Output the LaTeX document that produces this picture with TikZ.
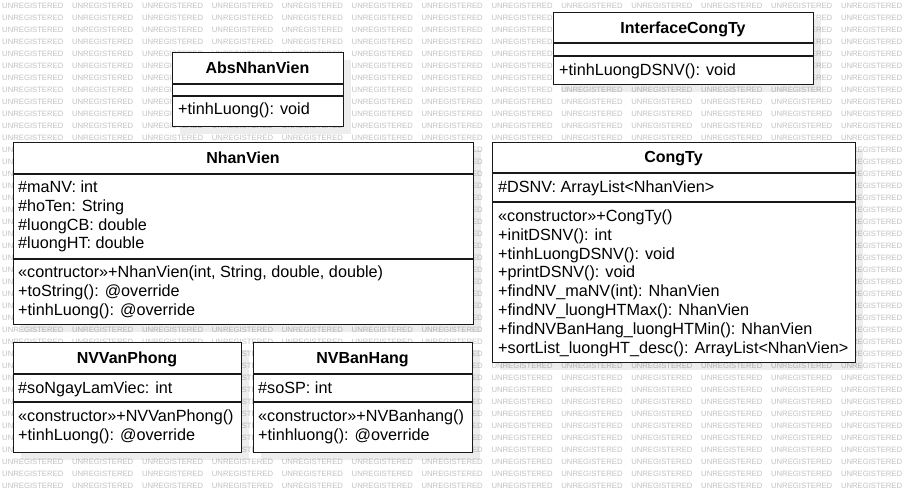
\documentclass[tikz,border=0pt]{standalone}
\usepackage{fontspec}
\setmainfont{Liberation Sans}
\usetikzlibrary{shadows}
\tikzset{
  classbox/.style={draw=black!90, line width=1.2pt, fill=white, inner sep=0pt, anchor=north west,
    drop shadow={shadow xshift=7pt, shadow yshift=-7pt, fill=black, opacity=0.07}},
  ctitle/.style={font=\fontsize{16}{19}\selectfont\bfseries, inner sep=0pt, anchor=base},
  member/.style={font=\fontsize{16.2}{19}\selectfont, inner sep=0pt, anchor=base west},
  sepline/.style={draw=black!90, line width=1.2pt},
  wm/.style={font=\fontsize{7.7}{8}\selectfont, text=black!24, inner sep=0pt, anchor=west},
}
\begin{document}
\begin{tikzpicture}[x=1pt,y=-1pt]
\useasboundingbox (0,0) rectangle (905,502);
\fill[white] (0,0) rectangle (905,502);
% watermark
\foreach \r in {0,...,40}{\foreach \c in {0,...,12}{
  \node[wm] (wm-\r-\c) at ({2+\c*69.9},{6+\r*12}) {UNREGISTERED};}}

% InterfaceCongTy
\node[classbox, minimum width=260pt, minimum height=72pt] (ict) at (553,12) {};
\node[ctitle] (ict-t) at (683,33.5) {InterfaceCongTy};
\draw[sepline] (553,43) -- (813,43);
\draw[sepline] (553,56) -- (813,56);
\node[member] (ict-m1) at (559,75.5) {+tinhLuongDSNV(): void};

% AbsNhanVien
\node[classbox, minimum width=171pt, minimum height=74pt] (abs) at (172,52) {};
\node[ctitle] (abs-t) at (257.5,73.5) {AbsNhanVien};
\draw[sepline] (172,84) -- (343,84);
\draw[sepline] (172,96) -- (343,96);
\node[member] (abs-m1) at (178,115) {+tinhLuong(): void};

% NhanVien
\node[classbox, minimum width=460pt, minimum height=182pt] (nv) at (13,142) {};
\node[ctitle] (nv-t) at (243,163.5) {NhanVien};
\draw[sepline] (13,174) -- (473,174);
\draw[sepline] (13,259) -- (473,259);
\node[member] (nv-a1) at (18,192.8) {\#maNV: int};
\node[member] (nv-a2) at (18,211.5) {\#hoTen: String};
\node[member] (nv-a3) at (18,230.2) {\#luongCB: double};
\node[member] (nv-a4) at (18,248.9) {\#luongHT: double};
\node[member] (nv-m1) at (18,277.8) {«contructor»+NhanVien(int, String, double, double)};
\node[member] (nv-m2) at (18,296.5) {+toString(): @override};
\node[member] (nv-m3) at (18,315.2) {+tinhLuong(): @override};

% CongTy
\node[classbox, minimum width=363pt, minimum height=220pt] (ct) at (492,142) {};
\node[ctitle] (ct-t) at (673.5,163) {CongTy};
\draw[sepline] (492,173) -- (855,173);
\draw[sepline] (492,202) -- (855,202);
\node[member] (ct-a1) at (498,192.5) {\#DSNV: ArrayList<NhanVien>};
\node[member] (ct-m1) at (498,221.5) {«constructor»+CongTy()};
\node[member] (ct-m2) at (498,240.3) {+initDSNV(): int};
\node[member] (ct-m3) at (498,259.1) {+tinhLuongDSNV(): void};
\node[member] (ct-m4) at (498,277.9) {+printDSNV(): void};
\node[member] (ct-m5) at (498,296.7) {+findNV\_maNV(int): NhanVien};
\node[member] (ct-m6) at (498,315.5) {+findNV\_luongHTMax(): NhanVien};
\node[member] (ct-m7) at (498,334.3) {+findNVBanHang\_luongHTMin(): NhanVien};
\node[member] (ct-m8) at (498,353.1) {+sortList\_luongHT\_desc(): ArrayList<NhanVien>};

% NVVanPhong
\node[classbox, minimum width=228pt, minimum height=110pt] (vp) at (13,342) {};
\node[ctitle] (vp-t) at (127,363.5) {NVVanPhong};
\draw[sepline] (13,374) -- (241,374);
\draw[sepline] (13,402) -- (241,402);
\node[member] (vp-a1) at (18,393.5) {\#soNgayLamViec: int};
\node[member] (vp-m1) at (18,421.5) {«constructor»+NVVanPhong()};
\node[member] (vp-m2) at (18,440.2) {+tinhLuong(): @override};

% NVBanHang
\node[classbox, minimum width=219pt, minimum height=110pt] (bh) at (253,342) {};
\node[ctitle] (bh-t) at (362.5,363.5) {NVBanHang};
\draw[sepline] (253,374) -- (472,374);
\draw[sepline] (253,402) -- (472,402);
\node[member] (bh-a1) at (258,393.5) {\#soSP: int};
\node[member] (bh-m1) at (258,421.5) {«constructor»+NVBanhang()};
\node[member] (bh-m2) at (258,440.2) {+tinhluong(): @override};
\end{tikzpicture}
\end{document}
